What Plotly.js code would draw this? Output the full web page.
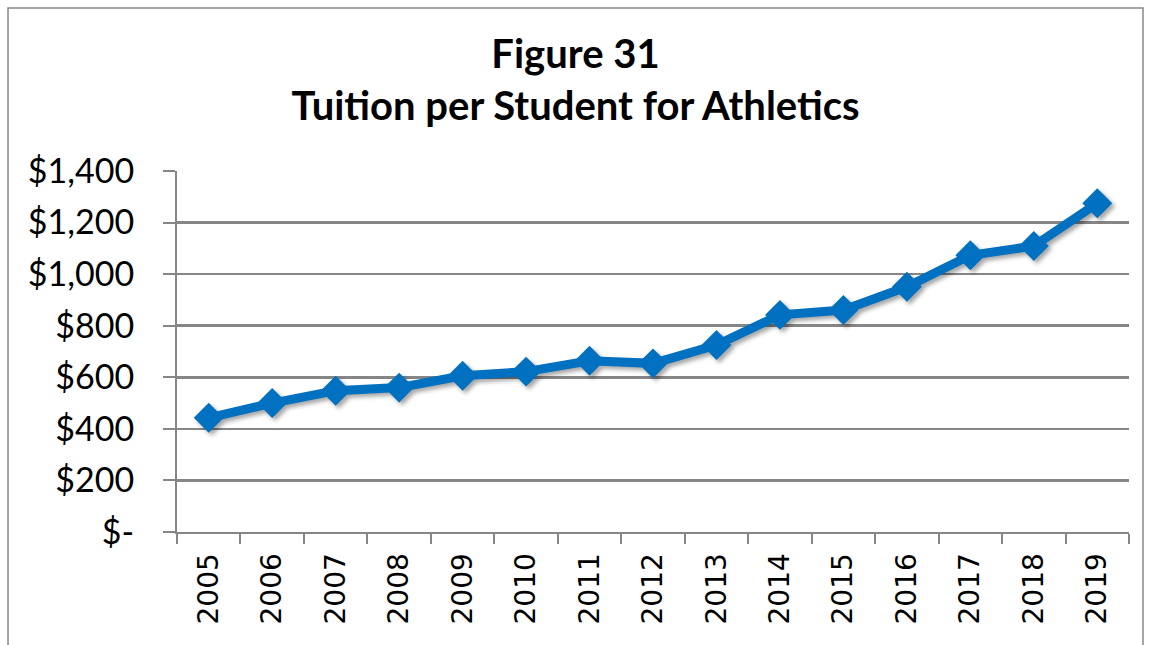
<!DOCTYPE html>
<html>
<head>
<meta charset="utf-8">
<script src="https://cdn.plot.ly/plotly-3.0.1.min.js"></script>
<style>
  html, body { margin: 0; padding: 0; background: #fff; }
  #chart { width: 1151px; height: 645px; }
  .scatterlayer .trace { filter: drop-shadow(3px 3px 2px rgba(0,0,0,0.35)); }
</style>
</head>
<body>
<div id="chart"></div>
<script>
const years = ["2005","2006","2007","2008","2009","2010","2011","2012","2013","2014","2015","2016","2017","2018","2019"];
const tuition = [443, 500, 548, 560, 606, 622, 664, 654, 725, 842, 861, 951, 1073, 1109, 1275];
const yTickVals = [0, 200, 400, 600, 800, 1000, 1200, 1400];
const yTickText = ["$-", "$200", "$400", "$600", "$800", "$1,000", "$1,200", "$1,400"];
const titleText = "Figure 31<br>Tuition per Student for Athletics";

const gray = "#868686";
const trace = {
  x: years, y: tuition, type: "scatter", mode: "lines+markers",
  line: { color: "#0070C0", width: 9 },
  marker: { symbol: "diamond", size: 23, color: "#0070C0" },
  hoverinfo: "x+y"
};

const layout = {
  width: 1151, height: 645,
  margin: { l: 177, r: 22, t: 171, b: 113 },
  paper_bgcolor: "#fff", plot_bgcolor: "#fff",
  showlegend: false,
  title: {
    text: titleText,
    font: { family: "Lato, 'Open Sans', sans-serif", size: 40, color: "#000", weight: "bold" },
    x: 0.5, xanchor: "center", y: 0.895, yanchor: "top"
  },
  xaxis: {
    type: "category", range: [-0.5, 14.5],
    tickson: "boundaries", ticks: "outside", ticklen: 10, tickwidth: 2, tickcolor: gray,
    showline: true, linecolor: gray, linewidth: 2,
    showgrid: false, zeroline: false,
    tickangle: -90, ticklabelstandoff: 8,
    tickfont: { family: "'DejaVu Sans', Verdana, sans-serif", size: 28, color: "#000" },
    fixedrange: true
  },
  yaxis: {
    range: [0, 1400],
    tickvals: yTickVals, ticktext: yTickText,
    ticks: "outside", ticklen: 12, tickwidth: 2, tickcolor: gray,
    showline: true, linecolor: gray, linewidth: 2,
    showgrid: true, gridcolor: gray, gridwidth: 2.5,
    zeroline: false, ticklabelstandoff: 22,
    tickfont: { family: "Lato, 'Open Sans', sans-serif", size: 34, color: "#000" },
    fixedrange: true
  },
  shapes: [{
    type: "rect", xref: "paper", yref: "paper",
    x0: -0.1775, x1: 1.0147, y0: -0.33, y1: 1.4515,
    line: { color: "#888", width: 1.5 }, fillcolor: "rgba(0,0,0,0)", layer: "below"
  }]
};

Plotly.newPlot("chart", [trace], layout, { displayModeBar: false, staticPlot: true });
</script>
</body>
</html>
